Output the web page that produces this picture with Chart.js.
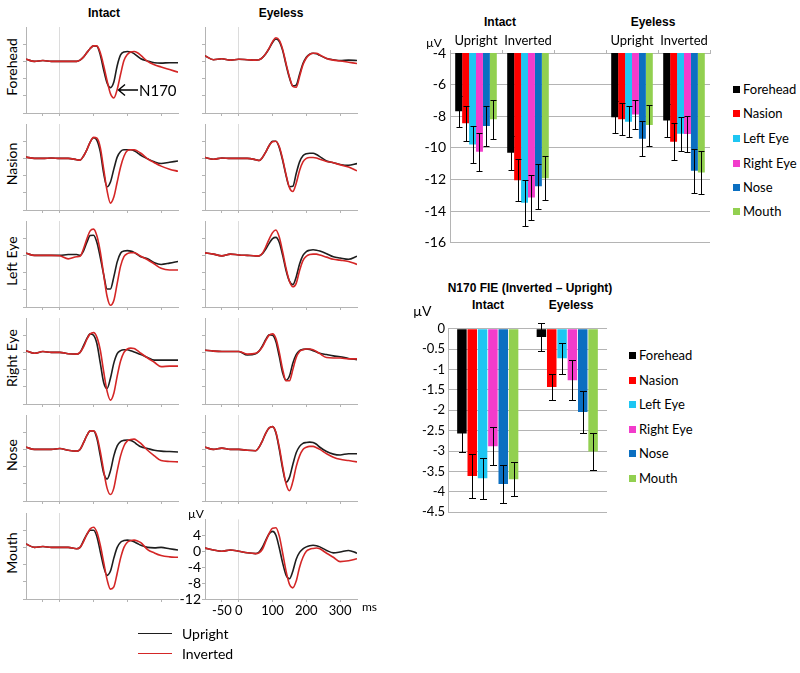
<!DOCTYPE html>
<html>
<head>
<meta charset="UTF-8">
<title>N170 electrodes</title>
<script src="https://cdn.jsdelivr.net/npm/chart.js@4.4.1/dist/chart.umd.min.js"></script>
<style>
  body { margin: 0; background: #fff; overflow: hidden; }
  #page { position: relative; width: 800px; height: 673px; font-family: Lato, sans-serif; color: #000; }
  #page canvas { position: absolute; }
  .t { position: absolute; white-space: nowrap; line-height: 1; }
  .c { transform: translate(-50%, -50%); }
  .l { transform: translate(0, -50%); }
  .b { font-family: "Liberation Sans", Arial, sans-serif; font-weight: bold; font-size: 12px; }
  .rot { transform: translate(-50%, -50%) rotate(-90deg); font-size: 14px; }
  .sw { position: absolute; width: 7px; height: 7px; }
</style>
</head>
<body>
<div id="page"></div>
<script>
// ERP time axis (ms) and waveforms (µV)
var times = [-100,-75,-50,-25,0,25,50,60,70,80,90,100,110,120,130,140,150,160,170,180,190,200,210,220,230,240,260,280,300,325,350];
var msTicks = [-50, 0, 100, 200, 300];
var uvTicks = [4, 0, -4, -8, -12];

var foreheadIntactUp  = [0.5,0,0.2,0,0,0,0,0.3,1.0,2.0,3.0,3.6,3.5,1.5,-2.0,-5.0,-6.1,-4.8,-1.0,1.5,2.2,2.3,2.2,1.8,1.2,0.6,0.1,-0.3,-0.4,-0.3,-0.3];
var foreheadIntactInv = [0.5,0,0.2,0,0,0,0,0.3,1.0,2.0,3.0,3.6,3.6,2.0,-1.0,-4.5,-7.5,-8.5,-6.5,-3.0,0.2,1.6,2.2,2.3,2.0,1.4,0.0,-0.8,-1.3,-1.9,-2.5];
var foreheadEyelessUp  = [1.3,0.4,0.6,0.3,0.5,0.4,0.3,0.4,0.9,1.8,3.0,4.4,5.2,4.6,2.5,-0.8,-3.8,-5.7,-5.5,-3.0,-0.5,1.0,1.7,1.9,1.8,1.4,0.7,0.4,0.2,0.3,0.2];
var foreheadEyelessInv = [1.3,0.4,0.6,0.3,0.5,0.4,0.3,0.4,0.9,1.8,3.1,4.6,5.5,4.9,2.8,-0.5,-3.6,-5.8,-6.0,-3.5,-0.8,0.8,1.6,1.9,1.9,1.5,0.7,0.3,0.1,-0.2,-0.5];

var nasionIntactUp  = [0.3,0,0,0.1,0,0,-0.3,-0.4,0.5,2.0,3.8,4.8,4.2,1.5,-3.5,-6.6,-5.5,-2.5,0.3,1.6,2.0,2.0,2.0,1.8,1.3,0.7,-0.1,-0.8,-1.2,-0.9,-0.6];
var nasionIntactInv = [0.3,0,0,0.1,0,0,-0.3,-0.4,0.5,2.0,3.8,4.9,4.7,2.5,-2.5,-7.5,-10.4,-9.0,-5.5,-2.0,0.5,1.8,2.0,2.0,1.7,1.2,-0.1,-1.0,-1.8,-2.5,-3.0];
var nasionEyelessUp  = [0.2,-0.2,0.1,0,0,0,-0.3,-0.5,0.2,1.5,3.0,4.0,4.0,2.5,-0.5,-4.0,-6.6,-6.5,-3.5,-0.8,0.6,1.1,1.2,1.2,0.9,0.4,-0.6,-1.0,-1.4,-1.6,-1.2];
var nasionEyelessInv = [0.2,-0.2,0.1,0,0,0,-0.3,-0.5,0.2,1.5,3.0,3.9,4.0,2.7,-0.2,-3.8,-6.8,-7.7,-5.8,-2.8,-0.8,0,0.2,0.2,0.1,-0.2,-0.7,-1.0,-1.5,-2.0,-2.9];

var leftEyeIntactUp  = [0.5,0,0,0,0,0.2,0.2,0,1.0,3.0,4.6,4.7,3.0,-0.5,-4.5,-7.8,-7.8,-5.0,-1.5,0.5,1.0,1.1,1.0,0.7,0.2,-0.3,-0.8,-1.7,-2.1,-1.8,-1.4];
var leftEyeIntactInv = [0.5,0,0,0,-0.1,-0.8,-0.3,-0.2,1.5,3.8,5.7,6.1,4.5,0.8,-4.5,-9.5,-11.6,-10.5,-6.5,-2.5,-0.3,0.4,0.6,0.6,0.3,-0.2,-1.0,-2.0,-3.0,-3.4,-3.4];
var leftEyeEyelessUp  = [0.6,0.3,-0.1,0.3,0.1,0,-0.1,-0.1,0.4,1.5,2.8,3.9,4.2,3.0,0.0,-3.5,-6.0,-6.8,-5.0,-2.0,0.0,0.9,1.2,1.3,1.2,1.0,0.4,-0.3,-0.6,-0.9,-0.2];
var leftEyeEyelessInv = [0.6,0.3,-0.1,0.3,0.1,0,-0.1,-0.1,0.5,2.0,3.8,5.3,5.9,4.2,0.8,-3.0,-6.0,-7.3,-6.5,-3.5,-1.2,-0.2,0.2,0.3,0.3,0.1,-0.4,-0.9,-1.1,-1.4,-2.1];

var rightEyeIntactUp  = [0.4,-0.2,0.2,0,0,-0.3,-0.4,0,1.5,3.2,4.3,4.0,2.0,-2.5,-7.0,-8.4,-6.0,-2.5,-0.3,0.4,0.6,0.6,0.4,0.1,-0.2,-0.5,-1.2,-1.8,-1.8,-1.8,-1.8];
var rightEyeIntactInv = [0.4,-0.2,0.2,0,0,-0.3,-0.4,0,1.2,3.0,4.3,4.6,3.5,0.5,-4.5,-9.0,-11.1,-9.5,-5.5,-2.0,0,0.8,1.0,0.9,0.4,-0.2,-1.3,-2.3,-3.3,-3.2,-3.2];
var rightEyeEyelessUp  = [0.5,0.3,0.2,0.2,0.2,-0.6,-0.3,0.3,1.5,3.0,4.1,4.0,2.5,-1.0,-4.8,-6.5,-5.5,-2.5,-0.5,0.4,0.7,0.8,0.7,0.4,0.1,-0.2,-0.5,-0.8,-1.0,-1.4,-1.7];
var rightEyeEyelessInv = [0.5,0.3,0.2,0.2,0.2,-0.4,-0.2,0.3,1.3,2.8,4.0,4.3,3.2,0,-4.0,-6.6,-6.6,-4.0,-1.2,0.2,0.6,0.8,0.8,0.6,0.2,-0.3,-1.2,-1.3,-1.3,-1.5,-1.5];

var noseIntactUp  = [0.5,0,0,0,0.2,-0.2,-0.4,0,1.5,3.2,4.3,4.3,2.5,-1.5,-5.5,-6.9,-5.0,-1.5,0.8,1.8,2.1,2.2,2.1,1.7,1.1,0.6,0.2,-0.2,-0.4,-0.5,-0.6];
var noseIntactInv = [0.5,0,0,0,0.2,-0.2,-0.4,0,1.5,3.2,4.3,4.3,3.0,-0.5,-5.0,-9.0,-10.5,-9.0,-5.0,-1.5,0.8,2.0,2.3,2.4,2.0,1.4,-0.2,-1.5,-2.6,-2.8,-2.9];
var noseEyelessUp  = [0.5,0,0.3,0,0,-0.2,-0.3,0.5,2.0,3.8,5.0,5.3,3.8,0,-4.5,-7.6,-6.5,-3.5,-0.8,0.7,1.4,1.6,1.7,1.6,1.2,0.5,-0.5,-1.1,-1.3,-1.0,-1.0];
var noseEyelessInv = [0.5,0,0.3,0,0,-0.2,-0.3,0.5,2.0,3.8,5.0,5.3,4.0,0.5,-4.0,-8.0,-9.6,-7.5,-4.0,-1.5,0,0.5,0.7,0.7,0.4,0,-1.0,-1.8,-2.3,-2.6,-2.9];

var mouthIntactUp  = [0.8,0,0.2,0,0,0,-0.3,0,1.5,3.0,4.0,4.0,2.5,-1.0,-4.5,-6.5,-5.5,-2.5,0,1.2,1.6,1.7,1.6,1.3,0.9,0.5,0.0,-0.1,0,-0.3,-0.6];
var mouthIntactInv = [0.8,0,0.2,0,0,0,-0.3,0,1.3,3.0,4.3,4.7,3.5,0.5,-3.5,-7.5,-9.7,-9.2,-6.0,-2.5,0,1.2,1.6,1.7,1.5,1.1,-0.5,-1.3,-1.9,-2.2,-2.3];
var mouthEyelessUp  = [0.8,0.3,0,0.3,0,-0.4,-0.6,-0.2,1.0,2.8,4.4,5.0,4.0,0.8,-3.0,-6.0,-6.9,-5.0,-2.0,-0.3,0.6,1.1,1.4,1.5,1.4,1.1,0.2,-0.4,-0.2,0.2,-0.5];
var mouthEyelessInv = [0.8,0.3,0,0.3,0,-0.4,-0.6,-0.4,0.5,2.5,4.5,5.8,5.9,3.8,-0.5,-5.0,-8.3,-9.2,-7.5,-4.0,-1.5,0,0.5,0.7,0.8,0.6,-0.5,-1.5,-2.6,-2.4,-1.9];

// N170 peak amplitude (µV) per condition, and error bars
var electrodes = ['Forehead', 'Nasion', 'Left Eye', 'Right Eye', 'Nose', 'Mouth'];
var faceTypes = ['Intact', 'Eyeless'];
var conditions = ['Upright', 'Inverted', '', 'Upright', 'Inverted'];
var ampTicks = [-4, -6, -8, -10, -12, -14, -16];
var ampForehead = [-7.69, -10.31, null, -8.06, -8.27];
var ampNasion   = [-8.45, -12.06, null, -8.19, -9.61];
var ampLeftEye  = [-9.79, -13.48, null, -8.35, -9.11];
var ampRightEye = [-10.25, -13.15, null, -7.90, -9.13];
var ampNose     = [-8.62, -12.43, null, -9.42, -11.46];
var ampMouth    = [-8.20, -11.92, null, -8.56, -11.57];
var ampErrForehead = [1.00, 1.07, null, 1.03, 1.07];
var ampErrNasion   = [1.10, 1.33, null, 1.03, 1.15];
var ampErrLeftEye  = [1.20, 1.45, null, 0.97, 1.07];
var ampErrRightEye = [1.20, 1.40, null, 0.90, 1.12];
var ampErrNose     = [1.24, 1.43, null, 1.12, 1.38];
var ampErrMouth    = [1.25, 1.40, null, 1.30, 1.35];

// N170 face inversion effect (Inverted - Upright)
var fieTicks = [0, -0.5, -1, -1.5, -2, -2.5, -3, -3.5, -4, -4.5];
var fieForehead = [-2.57, -0.20];
var fieNasion   = [-3.61, -1.43];
var fieLeftEye  = [-3.67, -0.72];
var fieRightEye = [-2.88, -1.26];
var fieNose     = [-3.81, -2.04];
var fieMouth    = [-3.69, -3.01];
var fieErrForehead = [0.45, 0.34];
var fieErrNasion   = [0.53, 0.31];
var fieErrLeftEye  = [0.51, 0.38];
var fieErrRightEye = [0.46, 0.49];
var fieErrNose     = [0.47, 0.52];
var fieErrMouth    = [0.42, 0.46];

var colors = ['#000000', '#ff0000', '#1ec6f2', '#f23ccb', '#0b6fc1', '#92d050'];

var waves = [
  [foreheadIntactUp, foreheadIntactInv, foreheadEyelessUp, foreheadEyelessInv],
  [nasionIntactUp, nasionIntactInv, nasionEyelessUp, nasionEyelessInv],
  [leftEyeIntactUp, leftEyeIntactInv, leftEyeEyelessUp, leftEyeEyelessInv],
  [rightEyeIntactUp, rightEyeIntactInv, rightEyeEyelessUp, rightEyeEyelessInv],
  [noseIntactUp, noseIntactInv, noseEyelessUp, noseEyelessInv],
  [mouthIntactUp, mouthIntactInv, mouthEyelessUp, mouthEyelessInv]
];
var ampValues = [ampForehead, ampNasion, ampLeftEye, ampRightEye, ampNose, ampMouth];
var ampErrors = [ampErrForehead, ampErrNasion, ampErrLeftEye, ampErrRightEye, ampErrNose, ampErrMouth];
var fieValues = [fieForehead, fieNasion, fieLeftEye, fieRightEye, fieNose, fieMouth];
var fieErrors = [fieErrForehead, fieErrNasion, fieErrLeftEye, fieErrRightEye, fieErrNose, fieErrMouth];

var page = document.getElementById('page');
var lato = function (s) { return { family: 'Lato', size: s }; };
var axisGrey = '#b4b4b4';

function text(str, x, y, cls, extra) {
  var d = document.createElement('div');
  d.className = 't ' + cls;
  d.textContent = str;
  d.style.left = x + 'px';
  d.style.top = y + 'px';
  if (extra) d.setAttribute('style', d.getAttribute('style') + ';' + extra);
  page.appendChild(d);
  return d;
}

function canvasAt(left, top, w, h) {
  var cv = document.createElement('canvas');
  cv.width = w; cv.height = h;
  cv.style.left = left + 'px';
  cv.style.top = top + 'px';
  page.appendChild(cv);
  return cv;
}

function pts(arr) {
  return arr.map(function (v, i) { return { x: times[i], y: v }; });
}

// one ERP panel; plot area 152 x 86 px
function makeWave(plotLeft, plotTop, up, inv, labels) {
  var yw = labels ? 30 : 5, xh = labels ? 20 : 5;
  var cv = canvasAt(Math.round(plotLeft - yw), Math.round(plotTop - 3), yw + 152 + 4, 3 + 86 + xh);
  var line = function (arr, col) {
    return { data: pts(arr), borderColor: col, borderWidth: 1.6, pointRadius: 0, cubicInterpolationMode: 'monotone' };
  };
  new Chart(cv, {
    type: 'line',
    data: { datasets: [line(inv, '#d42626'), line(up, '#1e1e1e')] },
    options: {
      responsive: false, animation: false, devicePixelRatio: 1,
      layout: { padding: { top: 3, right: 4, left: 0, bottom: 0 } },
      plugins: { legend: { display: false }, tooltip: { enabled: false } },
      scales: {
        x: {
          type: 'linear', min: -100, max: 350,
          afterBuildTicks: function (s) { s.ticks = msTicks.map(function (v) { return { value: v }; }); },
          afterFit: function (s) { s.height = xh; },
          grid: {
            color: function (c) { return c.tick && c.tick.value === 0 ? '#dcdcdc' : 'rgba(0,0,0,0)'; },
            tickColor: axisGrey, tickLength: 3
          },
          border: { color: axisGrey },
          ticks: { display: labels, padding: 1, color: '#000', font: lato(13), maxRotation: 0, autoSkip: false }
        },
        y: {
          min: -12, max: 8,
          afterBuildTicks: function (s) { s.ticks = uvTicks.map(function (v) { return { value: v }; }); },
          afterFit: function (s) { s.width = yw; },
          grid: { drawOnChartArea: false, tickColor: axisGrey, tickLength: 3 },
          border: { color: axisGrey },
          ticks: { display: labels, padding: 1, color: '#000', font: lato(14) }
        }
      }
    }
  });
}

electrodes.forEach(function (name, r) {
  var top = 27 + 97.1 * r;
  text(name, 12, top + 40, 'rot');
  faceTypes.forEach(function (face, c) {
    makeWave(c ? 205.2 : 26.2, top, waves[r][2 * c], waves[r][2 * c + 1], r === 5 && c === 1);
  });
});
text('Intact', 104, 13, 'b c');
text('Eyeless', 281, 13, 'b c');
text('µV', 188, 514, 'l', 'font-size:12px');
text('ms', 362, 607, 'l', 'font-size:12px');
text('N170', 139, 90, 'l', 'font-size:15px');

// arrow pointing at the N170 trough
var svgNS = 'http://www.w3.org/2000/svg';
var svg = document.createElementNS(svgNS, 'svg');
svg.setAttribute('width', '24'); svg.setAttribute('height', '14');
svg.setAttribute('style', 'position:absolute;left:116px;top:83px');
svg.innerHTML = '<path d="M22 7 H3 M9 1.5 L2.5 7 L9 12.5" fill="none" stroke="#000" stroke-width="1.4"/>';
page.appendChild(svg);

// waveform legend
[['Upright', '#1e1e1e', 634], ['Inverted', '#d42626', 654]].forEach(function (it) {
  var d = document.createElement('div');
  d.setAttribute('style', 'position:absolute;left:138px;width:34px;top:' + (it[2] - 1) + 'px;border-top:1.6px solid ' + it[1]);
  page.appendChild(d);
  text(it[0], 182, it[2], 'l', 'font-size:14px');
});

// error bars drawn through the bar scale
var errorBars = {
  id: 'errorBars',
  afterDatasetsDraw: function (chart, args, opts) {
    var ctx = chart.ctx, ys = chart.scales.y, cap = opts.cap || 6;
    ctx.save();
    ctx.strokeStyle = '#000';
    ctx.lineWidth = 1;
    chart.data.datasets.forEach(function (ds, i) {
      chart.getDatasetMeta(i).data.forEach(function (bar, j) {
        var v = ds.data[j], e = ds.err[j];
        if (v == null) return;
        var x = Math.round(bar.x) + 0.5;
        var y1 = Math.round(ys.getPixelForValue(v + e)) + 0.5;
        var y2 = Math.round(ys.getPixelForValue(v - e)) + 0.5;
        ctx.beginPath();
        ctx.moveTo(x, y1); ctx.lineTo(x, y2);
        ctx.moveTo(x - cap / 2, y1); ctx.lineTo(x + cap / 2, y1);
        ctx.moveTo(x - cap / 2, y2); ctx.lineTo(x + cap / 2, y2);
        ctx.stroke();
      });
    });
    ctx.restore();
  }
};

function barSets(values, errors, catPct, barPct) {
  return electrodes.map(function (e, i) {
    return { label: e, data: values[i], err: errors[i], backgroundColor: colors[i],
             categoryPercentage: catPct, barPercentage: barPct };
  });
}

// amplitude chart (top right)
new Chart(canvasAt(400, 30, 320, 225), {
  type: 'bar',
  data: { labels: conditions, datasets: barSets(ampValues, ampErrors, 0.8, 1) },
  options: {
    responsive: false, animation: false, devicePixelRatio: 1,
    layout: { padding: { top: 0, right: 10, bottom: 8, left: 0 } },
    plugins: { legend: { display: false }, tooltip: { enabled: false }, errorBars: { cap: 6 } },
    scales: {
      x: {
        position: 'top',
        afterFit: function (s) { s.height = 23; },
        grid: { offset: true, drawOnChartArea: false, color: axisGrey, tickLength: 3 },
        border: { color: axisGrey },
        ticks: { padding: 1, color: '#000', font: lato(13), maxRotation: 0 }
      },
      y: {
        min: -16, max: -4,
        afterBuildTicks: function (s) { s.ticks = ampTicks.map(function (v) { return { value: v }; }); },
        afterFit: function (s) { s.width = 50; },
        grid: { color: axisGrey, drawTicks: false },
        border: { color: axisGrey },
        ticks: { padding: 4, color: '#000', font: lato(14) }
      }
    }
  },
  plugins: [errorBars]
});
text('Intact', 500, 22, 'b c');
text('Eyeless', 653, 22, 'b c');
text('µV', 426, 43, 'l', 'font-size:12px');

// inversion effect chart (bottom right)
new Chart(canvasAt(400, 318, 220, 205), {
  type: 'bar',
  data: { labels: faceTypes, datasets: barSets(fieValues, fieErrors, 0.78, 0.92) },
  options: {
    responsive: false, animation: false, devicePixelRatio: 1,
    layout: { padding: { top: 10, right: 13, bottom: 10, left: 0 } },
    plugins: { legend: { display: false }, tooltip: { enabled: false }, errorBars: { cap: 7 } },
    scales: {
      x: { display: false },
      y: {
        min: -4.5, max: 0,
        afterBuildTicks: function (s) { s.ticks = fieTicks.map(function (v) { return { value: v }; }); },
        afterFit: function (s) { s.width = 48; },
        grid: { color: axisGrey, drawTicks: false },
        border: { color: axisGrey },
        ticks: { padding: 3, color: '#000', font: lato(13), callback: function (v) { return String(v); } }
      }
    }
  },
  plugins: [errorBars]
});
text('N170 FIE (Inverted \u2013 Upright)', 530, 288, 'b c');
text('Intact', 488, 305, 'b c');
text('Eyeless', 571, 305, 'b c');
text('µV', 413, 311, 'l', 'font-size:14px');

// legends of the bar charts
function legend(sqX, ys) {
  electrodes.forEach(function (e, i) {
    var s = document.createElement('div');
    s.className = 'sw';
    s.style.left = sqX + 'px';
    s.style.top = (ys[i] - 3.5) + 'px';
    s.style.background = colors[i];
    page.appendChild(s);
    text(e, sqX + 10, ys[i], 'l', 'font-size:13px');
  });
}
legend(733, [89, 113, 138, 163, 187, 211]);
legend(629, [355, 380, 404, 429, 453, 478]);
</script>
</body>
</html>
